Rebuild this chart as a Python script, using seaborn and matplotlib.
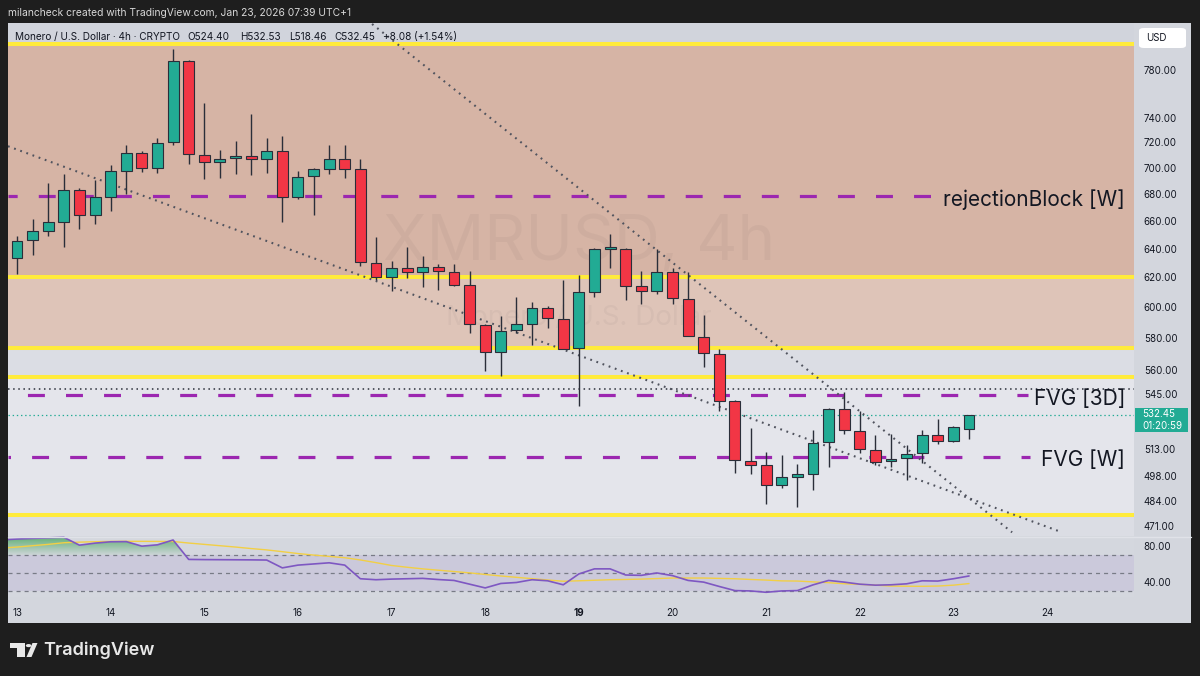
import numpy as np
import matplotlib
matplotlib.use("Agg")
import matplotlib.pyplot as plt
import seaborn as sns
from matplotlib.patches import Rectangle, FancyBboxPatch, Circle, Polygon
from matplotlib.lines import Line2D
from matplotlib.path import Path
from matplotlib.colors import to_rgb
from matplotlib.transforms import offset_copy
from matplotlib.ticker import FixedLocator, FixedFormatter, NullLocator

# ---------------- data ----------------
day_labels = ["13", "14", "15", "16", "17", "18", "19", "20", "21", "22", "23", "24"]

opens = [633.3, 646.0, 652.4, 659.6, 682.7, 664.7, 678.0, 697.9, 711.7, 700.2,
         720.3, 787.8, 710.1, 704.3, 707.4, 709.3, 707.0, 713.1, 678.0, 693.3,
         699.2, 707.0, 698.9, 629.8, 620.4, 626.4, 624.1, 627.5, 623.9, 614.8,
         588.2, 570.7, 585.1, 588.8, 599.6, 592.4, 573.2, 609.9, 640.0, 639.8,
         614.5, 611.1, 624.1, 605.4, 580.8, 569.9, 540.7, 505.9, 503.8, 492.6,
         497.2, 498.6, 516.9, 535.8, 523.2, 512.3, 505.9, 507.5, 510.5, 520.8,
         517.7, 524.40]
highs = [649.3, 661.3, 688.1, 695.4, 684.2, 690.3, 702.0, 718.2, 713.1, 723.4,
         798.3, 788.7, 752.3, 714.1, 721.2, 743.0, 723.1, 725.3, 697.4, 700.2,
         718.2, 718.0, 707.2, 648.1, 631.6, 641.0, 635.1, 629.3, 629.1, 624.4,
         589.0, 594.4, 607.1, 603.4, 600.5, 618.3, 622.0, 640.7, 650.5, 640.5,
         624.6, 639.8, 626.4, 623.7, 595.0, 572.7, 541.7, 524.9, 511.1, 509.2,
         504.5, 523.9, 536.5, 546.5, 535.0, 521.0, 521.4, 515.4, 523.9, 530.1,
         526.2, 532.53]
lows = [622.5, 635.6, 648.8, 641.2, 654.1, 657.7, 667.4, 679.8, 697.0, 696.1,
        718.0, 703.3, 691.6, 691.8, 695.4, 694.6, 696.1, 658.9, 676.6, 664.4,
        695.0, 692.0, 628.2, 618.6, 611.1, 619.9, 613.8, 611.6, 614.5, 583.3,
        559.0, 555.8, 583.1, 575.3, 586.5, 572.8, 538.0, 606.6, 626.8, 604.5,
        601.8, 608.7, 602.4, 581.0, 561.7, 534.7, 499.6, 499.0, 482.8, 491.4,
        481.2, 490.1, 502.7, 521.6, 510.7, 503.8, 503.0, 495.6, 505.0, 515.8,
        516.7, 518.46]
closes = [645.7, 652.4, 659.3, 682.7, 664.7, 678.0, 697.7, 711.7, 700.2, 719.7,
          787.5, 710.4, 704.3, 707.2, 709.3, 707.0, 713.1, 678.0, 692.6, 698.9,
          707.0, 699.2, 630.5, 620.4, 626.4, 624.1, 627.5, 624.4, 615.2, 588.6,
          570.7, 584.6, 588.6, 599.6, 592.9, 573.0, 609.9, 639.6, 641.0, 614.5,
          611.1, 624.1, 605.8, 581.2, 570.5, 541.1, 506.4, 504.0, 492.8, 497.4,
          498.6, 516.5, 536.0, 523.6, 512.6, 505.5, 507.2, 510.3, 520.8, 517.7,
          525.5, 532.45]

# RSI (14) and its moving average, starting one bar before the first visible candle
rsi_values = [87.0, 88.0, 88.7, 89.3, 89.9, 81.1, 83.4, 84.9, 85.1, 80.0, 81.5,
              86.9, 65.1, 64.9, 64.8, 64.7, 64.6, 64.4, 55.6, 58.7, 60.0,
              61.3, 58.7, 43.4, 42.3, 43.0, 43.4, 43.8, 42.5, 41.5, 37.3,
              33.1, 38.1, 39.2, 42.3, 41.1, 36.6, 48.8, 54.5, 54.5, 47.6,
              47.2, 49.9, 46.9, 41.5, 39.6, 34.7, 30.1, 29.7, 28.2, 29.7,
              30.1, 36.5, 41.5, 39.6, 37.3, 36.2, 36.6, 37.7, 41.1, 40.8,
              43.4, 46.5]
rsi_ma = [77.8, 79.0, 80.5, 82.0, 83.8, 84.5, 85.0, 85.3, 85.4, 85.4, 85.3,
          85.2, 83.5, 82.0, 80.5, 79.0, 77.3, 75.8, 73.8, 71.7, 70.0,
          68.5, 67.0, 64.5, 61.5, 58.3, 56.3, 54.5, 53.0, 51.5, 50.0,
          48.2, 46.5, 45.0, 43.5, 42.0, 40.6, 41.1, 41.7, 42.3, 42.6,
          43.0, 43.6, 44.2, 44.2, 44.2, 43.8, 43.4, 42.6, 41.9, 41.0,
          40.8, 39.9, 39.0, 37.8, 37.1, 36.2, 35.2, 35.0, 34.9, 35.2,
          36.2, 38.0]

price_ticks = [780, 740, 720, 700, 680, 660, 640, 620, 600, 580, 560, 545,
               513, 498, 484, 471]
rsi_ticks = [80, 40]
rsi_levels = [70, 50, 30]

zone_top = 803.0          # top yellow line
rejection_low = 620.0     # rejectionBlock [W] lower edge
upper_band_low = 573.7
fvg3d_top = 555.4
fvgw_low = 477.0
rejection_mid = 678.5
fvg3d_mid = 544.3
fvgw_mid = 508.5
dotted_level = 548.0
last_price = 532.45

trend1_x, trend1_y = [-0.58, 66.96], [716.9, 467.7]
trend2_x, trend2_y = [22.75, 63.76], [820.7, 467.7]

header_parts = ["Monero / U.S. Dollar · 4h · CRYPTO", "O524.40", "H532.53",
                "L518.46", "C532.45", "+8.08 (+1.54%)"]
credit = "milancheck created with TradingView.com, Jan 23, 2026 07:39 UTC+1"

# ---------------- style ----------------
sns.set_theme(style="white")
plt.rcParams['font.family'] = ['Inter', 'DejaVu Sans']
plt.rcParams['lines.scale_dashes'] = False

W, H = 1200, 676
def fx(x):
    return x / W
def fy(y):
    return 1 - y / H

TXT = '#131722'
GREEN = '#22ab94'
RED = '#f23645'
YELLOW = '#ffeb3b'
PURPLE = '#9c27b0'

fig = plt.figure(figsize=(12, 6.76), dpi=100, facecolor='#1e1e1e')
fig.patches.append(Rectangle((fx(8), fy(623)), (1191 - 8) / W, (623 - 23) / H,
                             transform=fig.transFigure, facecolor='#d3d6dd',
                             edgecolor='none', zorder=-5))

ax = fig.add_axes([fx(8), fy(536), (1134 - 8) / W, (536 - 23) / H])
ax2 = fig.add_axes([fx(8), fy(597), (1134 - 8) / W, (597 - 536) / H])
XMIN, XMAX = -0.577, 71.57

# ---------------- price pane ----------------
ax.set_facecolor('#d1d4dc')
ax.set_yscale('log')
ax.axhspan(400, fvgw_low, color='#dbdde4', lw=0, zorder=0)
ax.axhspan(fvgw_low, fvg3d_top, color='#e4e5eb', lw=0, zorder=0)
ax.axhspan(fvg3d_top, upper_band_low, color='#dbdde4', lw=0, zorder=0)
ax.axhspan(upper_band_low, rejection_low, color='#dec4b8', lw=0, zorder=0)
ax.axhspan(rejection_low, zone_top, color='#d6b4a5', lw=0, zorder=0)

# watermark
ax.text(0.507, 0.57, "XMRUSD, 4h", transform=ax.transAxes, ha='center', va='center',
        fontsize=46, color=TXT, alpha=0.04, zorder=1)
ax.text(0.507, 0.425, "Monero / U.S. Dollar", transform=ax.transAxes, ha='center',
        va='center', fontsize=20, color=TXT, alpha=0.04, zorder=1)

for lvl in [zone_top, rejection_low, upper_band_low, fvg3d_top, fvgw_low]:
    ax.axhline(lvl, color=YELLOW, lw=2.9, zorder=2)

ax.plot([XMIN, 58.63], [rejection_mid] * 2, color=PURPLE, lw=2.3,
        ls=(5.6, (12.2, 15.2)), zorder=3)
ax.plot([XMIN, 64.78], [fvg3d_mid] * 2, color=PURPLE, lw=2.3,
        ls=(13.4, (12.2, 15.2)), zorder=3)
ax.plot([XMIN, 64.91], [fvgw_mid] * 2, color=PURPLE, lw=2.3,
        ls=(10.4, (12.2, 15.2)), zorder=3)

ax.axhline(dotted_level, color='#2a2e39', lw=1.1, ls=(0, (1.1, 2.6)), zorder=3)
ax.axhline(last_price, color=GREEN, lw=0.9, ls=(0, (1.0, 2.0)), zorder=3)
ax.plot(trend1_x, trend1_y, color='#50535e', lw=1.5, ls=(0, (1.3, 3.4)), zorder=3)
ax.plot(trend2_x, trend2_y, color='#50535e', lw=1.5, ls=(0, (1.3, 3.4)), zorder=3)

# candles
idx = np.arange(len(opens))
o = np.array(opens); c = np.array(closes)
bottoms = np.minimum(o, c)
heights = np.maximum(np.abs(c - o), 0.8)
colors = [GREEN if cc >= oo else RED for oo, cc in zip(o, c)]
ax.vlines(idx, lows, highs, color='#2a2e39', lw=1.0, zorder=4)
ax.bar(idx, heights, bottom=bottoms, width=0.7, color=colors,
       edgecolor='#2a2e39', linewidth=0.8, zorder=5)

# zone labels (nudged down so cap height is centred on the level)
lab_tr = offset_copy(ax.transData, fig=fig, y=-2.5, units='points')
ax.text(71.0, rejection_mid, "rejectionBlock [W]", ha='right', va='center',
        fontsize=15, color=TXT, zorder=6, transform=lab_tr)
ax.text(71.0, fvg3d_mid, "FVG [3D]", ha='right', va='center', fontsize=15,
        color=TXT, zorder=6, transform=lab_tr)
ax.text(71.0, fvgw_mid, "FVG [W]", ha='right', va='center', fontsize=15,
        color=TXT, zorder=6, transform=lab_tr)

ax.set_xlim(XMIN, XMAX)
ax.set_ylim(465.8, 821.6)
ax.yaxis.tick_right()
ax.yaxis.set_major_locator(FixedLocator(price_ticks))
ax.yaxis.set_major_formatter(FixedFormatter([f"{v:.2f}" for v in price_ticks]))
ax.yaxis.set_minor_locator(NullLocator())
ax.set_xticks([])
ax.tick_params(axis='y', length=0, pad=7, labelsize=7, labelcolor=TXT)
for s in ax.spines.values():
    s.set_visible(False)

# ---------------- RSI pane ----------------
ax2.set_facecolor('#d4d7de')
rsi_x = np.arange(-1, len(rsi_values) - 1)
ax2.axhspan(rsi_levels[2], rsi_levels[0], color='#7e57c2', alpha=0.1, lw=0, zorder=0)
for lvl in rsi_levels:
    ax2.axhline(lvl, color='#787b86', lw=0.9, ls=(0, (2.9, 2.9)), zorder=1)

rv = np.array(rsi_values)
fill = ax2.fill_between(rsi_x, rv, 70, where=rv > 70, interpolate=True,
                        facecolor='none', edgecolor='none')
clip = Path.make_compound_path(*fill.get_paths())
grad = np.zeros((100, 1, 4))
grad[..., :3] = to_rgb('#3fa556')
grad[:, 0, 3] = np.linspace(0.05, 0.8, 100)
im = ax2.imshow(grad, extent=[XMIN, XMAX, 70, 91], origin='lower', aspect='auto',
                zorder=2, interpolation='bilinear')
im.set_clip_path(clip, transform=ax2.transData)

sns.lineplot(x=rsi_x, y=rsi_ma, ax=ax2, color='#f2cf45', lw=1.0, zorder=3)
sns.lineplot(x=rsi_x, y=rsi_values, ax=ax2, color='#7e57c2', lw=1.2, zorder=4)

ax2.set_xlim(XMIN, XMAX)
ax2.set_ylim(22.9, 91.4)
ax2.yaxis.tick_right()
ax2.set_yticks(rsi_ticks)
ax2.set_yticklabels([f"{v:.2f}" for v in rsi_ticks])
ax2.set_xticks(np.arange(len(day_labels)) * 6)
ax2.set_xticklabels(day_labels)
ax2.set_xlabel(""); ax2.set_ylabel("")
ax2.tick_params(axis='y', length=0, pad=7, labelsize=7, labelcolor=TXT)
ax2.tick_params(axis='x', length=0, pad=8, labelsize=7, labelcolor=TXT)
for lab in ax2.get_xticklabels():
    if lab.get_text() == "19":
        lab.set_fontweight('bold')
for s in ax2.spines.values():
    s.set_visible(False)

fig.add_artist(Line2D([fx(8), fx(1191)], [fy(536.5)] * 2, color='#e0e2e8', lw=1.0,
                      transform=fig.transFigure))

# ---------------- chrome ----------------
fig.text(fx(8), fy(13), credit, ha='left', va='center', fontsize=7.4, color='#d8d8d8')
header_x = [15, 187, 240, 289, 334, 383]
for hx, part in zip(header_x, header_parts):
    fig.text(fx(hx), fy(37), part, ha='left', va='center', fontsize=7.2, color=TXT)

fig.patches.append(FancyBboxPatch((fx(1139), fy(48)), (1186 - 1139) / W, (48 - 28) / H,
                                  boxstyle="round,pad=0,rounding_size=0.004",
                                  transform=fig.transFigure, facecolor='white',
                                  edgecolor='none', zorder=3))
fig.text(fx(1146), fy(38), "USD", ha='left', va='center', fontsize=7, color=TXT, zorder=4)

fig.patches.append(Rectangle((fx(1135), fy(432)), (1188 - 1135) / W, (432 - 408) / H,
                             transform=fig.transFigure, facecolor=GREEN,
                             edgecolor='none', zorder=3))
fig.text(fx(1142), fy(414), f"{last_price:.2f}", ha='left', va='center', fontsize=7,
         color='white', zorder=4)
fig.text(fx(1142), fy(426), "01:20:59", ha='left', va='center', fontsize=7,
         color='white', zorder=4)

# TradingView logo
logo_c = '#e8e8e8'
fig.patches.append(Polygon([(fx(10), fy(643)), (fx(25), fy(643)), (fx(25), fy(657)),
                            (fx(17), fy(657)), (fx(17), fy(648)), (fx(10), fy(648))],
                           closed=True, transform=fig.transFigure, facecolor=logo_c,
                           edgecolor='none'))
fig.patches.append(Circle((fx(28.6), fy(645.6)), 2.8 / W, transform=fig.transFigure,
                          facecolor=logo_c, edgecolor='none'))
fig.patches.append(Polygon([(fx(26.5), fy(657)), (fx(31.5), fy(657)), (fx(37.5), fy(643)),
                            (fx(32.5), fy(643))], closed=True, transform=fig.transFigure,
                           facecolor=logo_c, edgecolor='none'))
fig.text(fx(43), fy(650), "TradingView", ha='left', va='center', fontsize=13,
         fontweight='semibold', color=logo_c)

fig.savefig("out.png", dpi=100, facecolor=fig.get_facecolor())
